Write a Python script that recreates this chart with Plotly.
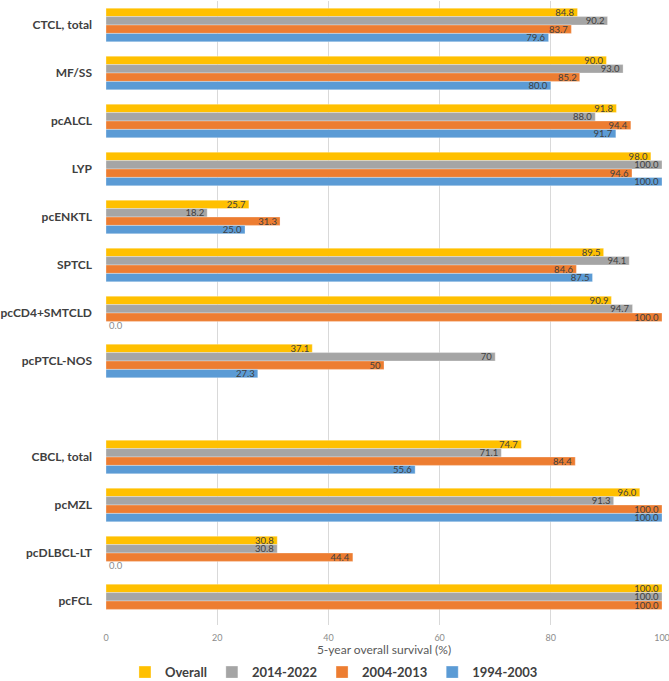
import plotly.graph_objects as go

categories = ["CTCL, total", "MF/SS", "pcALCL", "LYP", "pcENKTL", "SPTCL",
              "pcCD4+SMTCLD", "pcPTCL-NOS", "", "CBCL, total", "pcMZL",
              "pcDLBCL-LT", "pcFCL"]

overall = [84.8, 90.0, 91.8, 98.0, 25.7, 89.5, 90.9, 37.1, None, 74.7, 96.0, 30.8, 100.0]
p2014_2022 = [90.2, 93.0, 88.0, 100.0, 18.2, 94.1, 94.7, 70, None, 71.1, 91.3, 30.8, 100.0]
p2004_2013 = [83.7, 85.2, 94.4, 94.6, 31.3, 84.6, 100.0, 50, None, 84.4, 100.0, 44.4, 100.0]
p1994_2003 = [79.6, 80.0, 91.7, 100.0, 25.0, 87.5, 0.0, 27.3, None, 55.6, 100.0, 0.0, None]

series_names = ["Overall", "2014-2022", "2004-2013", "1994-2003"]
series_values = [overall, p2014_2022, p2004_2013, p1994_2003]
colors = ["#FFC000", "#A5A5A5", "#ED7D31", "#5B9BD5"]

x_ticks = [0, 20, 40, 60, 80, 100]

FONT = "Lato, sans-serif"


def label(v):
    if v is None:
        return ""
    if isinstance(v, int):
        return str(v)
    return f"{v:.1f}"


positions = list(range(len(categories)))

fig = go.Figure()
for name, vals, col in zip(series_names, series_values, colors):
    fig.add_trace(go.Bar(
        y=positions, x=vals, name=name, orientation="h",
        marker=dict(color=col, line=dict(color="rgba(255,255,255,0.6)", width=0.5)),
        text=[label(v) for v in vals],
        textposition=["outside" if (v is not None and v == 0) else "inside" for v in vals],
        insidetextanchor="end", constraintext="none", textangle=0,
        textfont=dict(family=FONT, size=9.5, color="#595959"),
        insidetextfont=dict(family=FONT, size=9.5, color="#404040"),
        outsidetextfont=dict(family=FONT, size=9.5, color="#8c8c8c"),
        cliponaxis=False,
    ))

fig.update_layout(
    width=669, height=681,
    margin=dict(l=106, r=7, t=1, b=56, autoexpand=False),
    barmode="group", bargap=0.3, bargroupgap=0,
    plot_bgcolor="white", paper_bgcolor="white",
    font=dict(family=FONT, color="#595959"),
    showlegend=True,
    legend=dict(orientation="h", x=0.41, xanchor="center", xref="paper",
                y=0.013, yanchor="middle", yref="container",
                font=dict(size=13, color="#404040", weight="bold"), traceorder="normal",
                itemwidth=30, tracegroupgap=0),
)
fig.update_xaxes(
    range=[0, 100], tickvals=x_ticks, showgrid=True, gridcolor="#d9d9d9", gridwidth=1,
    zeroline=False, showline=False, ticks="", automargin=False, ticklabelstandoff=6,
    ticklabeloverflow="allow",
    tickfont=dict(size=9, color="#8c8c8c"),
    title=dict(text="5-year overall survival (%)", font=dict(size=12, color="#595959"), standoff=15),
)
fig.update_yaxes(
    range=[len(categories) - 0.5, -0.5], tickvals=positions, ticktext=categories,
    showgrid=False, zeroline=False, ticks="", ticklabelstandoff=13, automargin=False,
    tickfont=dict(size=12, color="#404040", family=FONT, weight="bold"),
)

fig.write_html("out.html", config={"displayModeBar": False})

with open("out.html", encoding="utf-8") as f:
    html = f.read()
html = html.replace("<head>", "<head><style>html,body{margin:0;padding:0;overflow:hidden;}</style>", 1)
with open("out.html", "w", encoding="utf-8") as f:
    f.write(html)
